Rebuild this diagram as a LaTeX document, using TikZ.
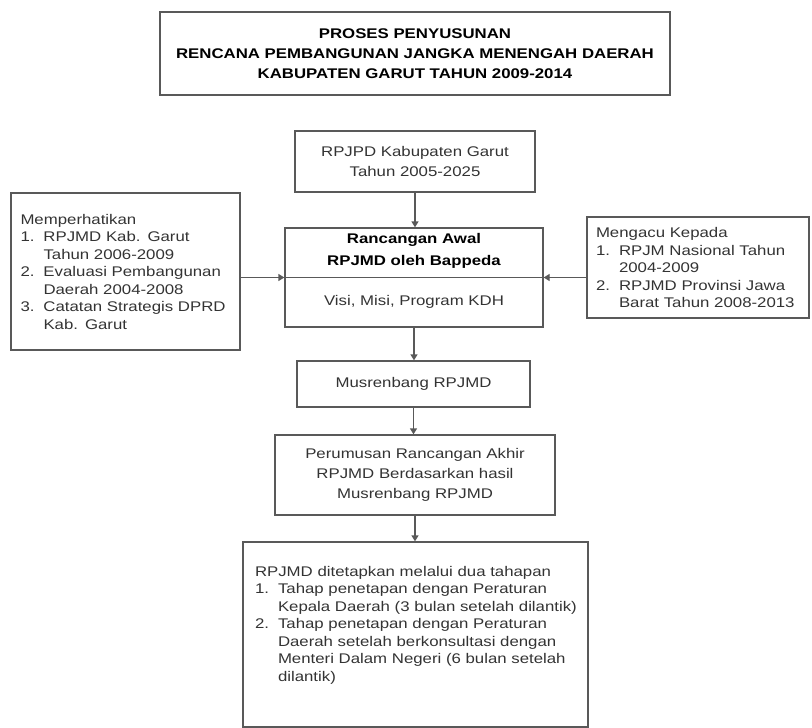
\documentclass[tikz,border=0pt]{standalone}
\usepackage{fontspec}
\setmainfont{Liberation Sans}[FakeStretch=1.2]
\usepackage{tikz}
\usetikzlibrary{arrows.meta,positioning}
\definecolor{garis}{HTML}{595959}
\definecolor{huruf}{HTML}{333333}
\newcommand{\butir}[2]{\makebox[23pt][l]{#1}#2}
\newcommand{\lanjut}{\hspace*{23pt}}

\begin{document}
\begin{tikzpicture}[x=1pt, y=-1pt, >=Stealth,
		kotak/.style={draw=garis, line width=1.3pt, inner sep=0pt, align=center, text=huruf, font=\fontsize{14}{20}\selectfont},
		daftar/.style={kotak, align=left, font=\fontsize{14}{17.5}\selectfont},
		panah/.style={draw=garis, line width=1.3pt, -{Triangle[length=6pt,width=7pt]}}]
		\useasboundingbox (0,0) rectangle (812,728);
		% judul
		\node[kotak, minimum width=510pt, minimum height=83pt, text=black, font=\bfseries\fontsize{14}{20}\selectfont] (judul) at (415,53.5) {PROSES PENYUSUNAN\\RENCANA PEMBANGUNAN JANGKA MENENGAH DAERAH\\KABUPATEN GARUT TAHUN 2009-2014};
		% bagan tengah
		\node[kotak, minimum width=240pt, minimum height=61pt] (rpjpd) at (415,161.5) {RPJPD Kabupaten Garut\\Tahun 2005-2025};
		\node[kotak, minimum width=258pt, minimum height=99pt] (utama) at (414,277.5) {};
		\node[align=center, text=black, font=\bfseries\fontsize{14}{22}\selectfont] (awal) at (414,251) {Rancangan Awal\\RPJMD oleh Bappeda};
		\node[text=huruf, font=\fontsize{14}{20}\selectfont] (visi) at (414,302) {Visi, Misi, Program KDH};
		\node[kotak, minimum width=233pt, minimum height=46pt] (musren) at (413.5,384) {Musrenbang RPJMD};
		\node[kotak, minimum width=280pt, minimum height=80pt] (rumus) at (415,475) {Perumusan Rancangan Akhir\\RPJMD Berdasarkan hasil\\Musrenbang RPJMD};
		\node[kotak, minimum width=345pt, minimum height=185pt] (akhir) at (415.5,634.5) {};
		\node[daftar, draw=none, anchor=north west] (isi) at ([xshift=12pt, yshift=-24pt]akhir.north west) {RPJMD ditetapkan melalui dua tahapan\\
			\butir{1.}{Tahap penetapan dengan Peraturan}\\
			\lanjut Kepala Daerah (3 bulan setelah dilantik)\\
			\butir{2.}{Tahap penetapan dengan Peraturan}\\
			\lanjut Daerah setelah berkonsultasi dengan\\
			\lanjut Menteri Dalam Negeri (6 bulan setelah\\
			\lanjut dilantik)};
		% kotak samping
		\node[daftar, minimum width=229pt, minimum height=157pt, text width=210pt] (kiri) at (125.5,271.5) {Memperhatikan\\
			\butir{1.}{RPJMD Kab. Garut}\\
			\lanjut Tahun 2006-2009\\
			\butir{2.}{Evaluasi Pembangunan}\\
			\lanjut Daerah 2004-2008\\
			\butir{3.}{Catatan Strategis DPRD}\\
			\lanjut Kab. Garut};
		\node[daftar, minimum width=222pt, minimum height=101pt, text width=204pt] (kanan) at (698,267.5) {Mengacu Kepada\\
			\butir{1.}{RPJM Nasional Tahun}\\
			\lanjut 2004-2009\\
			\butir{2.}{RPJMD Provinsi Jawa}\\
			\lanjut Barat Tahun 2008-2013};
		% panah
		\draw[garis, line width=1.3pt] (utama.west) -- (utama.east);
		\draw[panah] (kiri.east |- utama.west) -- (utama.west);
		\draw[panah] (kanan.west |- utama.east) -- (utama.east);
		\draw[panah] (rpjpd.south) -- (rpjpd.south |- utama.north);
		\draw[panah] (utama.south) -- (utama.south |- musren.north);
		\draw[panah] (musren.south) -- (musren.south |- rumus.north);
		\draw[panah] (rumus.south) -- (rumus.south |- akhir.north);
	\end{tikzpicture}
\end{document}
